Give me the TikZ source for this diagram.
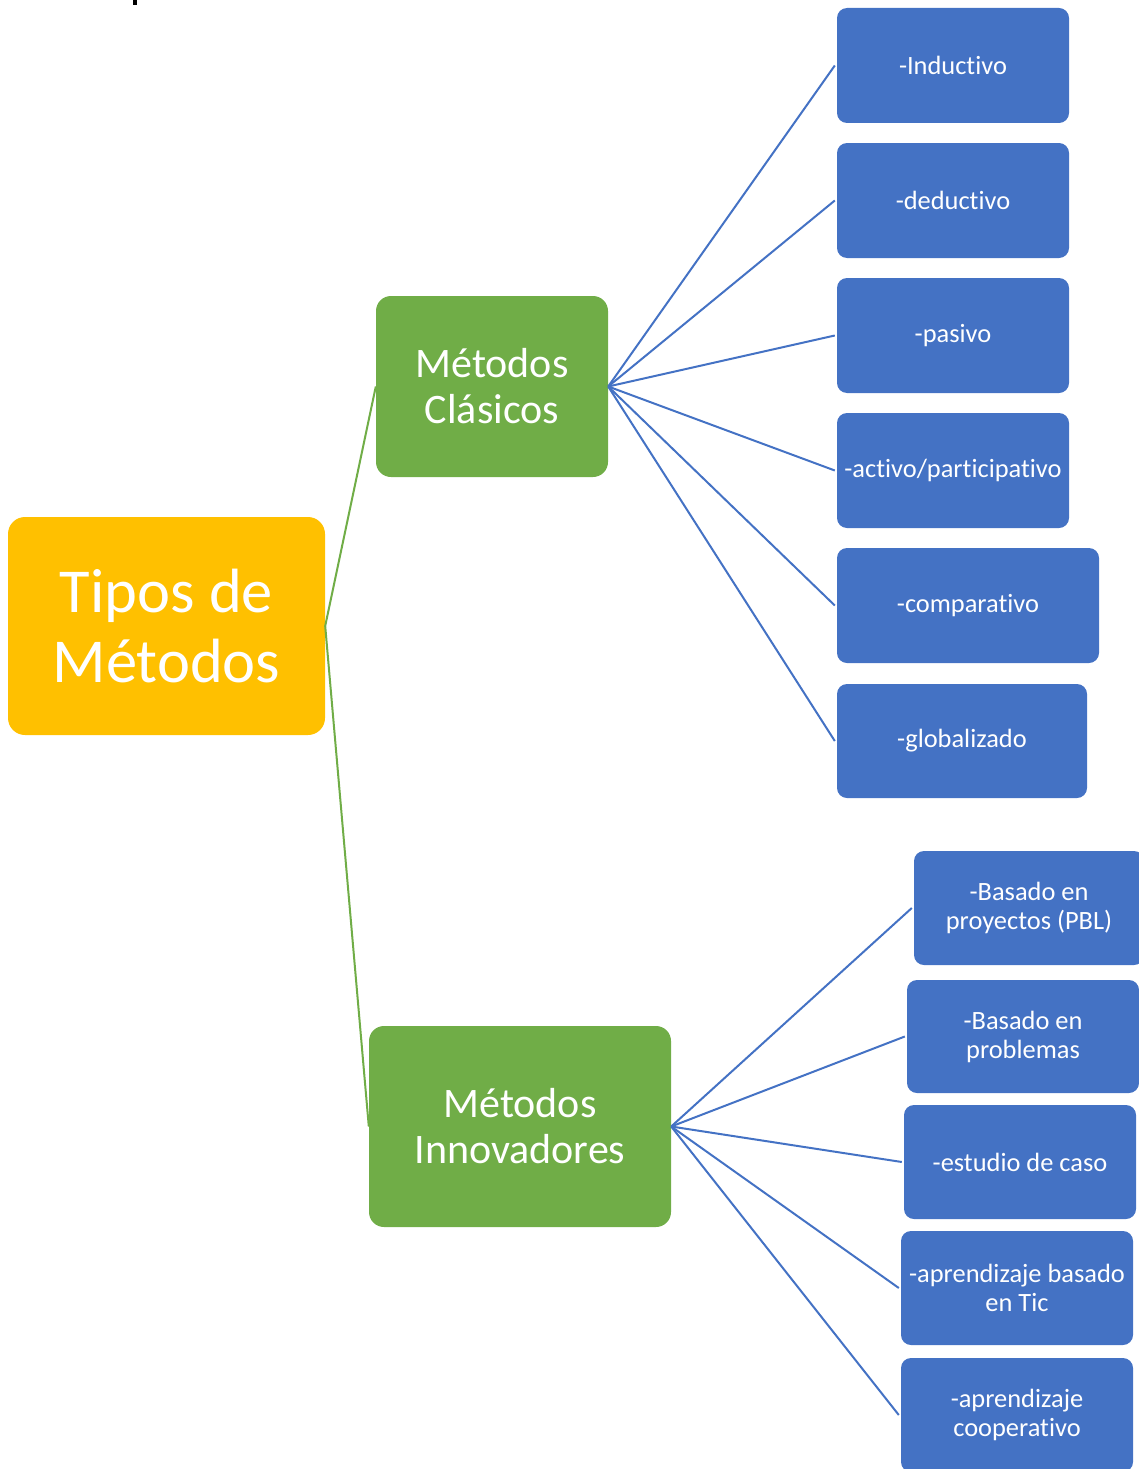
\documentclass[tikz,border=0pt]{standalone}
\usepackage{fontspec}
\setmainfont{Carlito}[Ligatures=NoCommon]
\definecolor{cblue}{HTML}{4472C4}
\definecolor{cgreen}{HTML}{70AD47}
\definecolor{cgold}{HTML}{FFC000}
\begin{document}
\begin{tikzpicture}[x=1pt,y=-1pt,
  leaf/.style={fill=cblue, rounded corners=10pt, inner sep=0pt, text=white, align=center,
    font=\fontsize{26.4}{29}\selectfont, minimum width=232pt, minimum height=115pt},
  mid/.style={fill=cgreen, rounded corners=15pt, inner sep=0pt, text=white, align=center,
    font=\fontsize{42}{46}\selectfont},
  root/.style={fill=cgold, rounded corners=17pt, inner sep=0pt, text=white, align=center,
    font=\fontsize{62.5}{70}\selectfont},
  bline/.style={draw=cblue, line width=2pt},
  gline/.style={draw=cgreen, line width=2pt}]
\useasboundingbox (0,0) rectangle (1139,1469);
\clip (0,0) rectangle (1139,1469);
\fill[black] (133,0) rectangle (137,5);

\node[root, minimum width=317pt, minimum height=218pt] (tipos) at (166.5,626) {Tipos de\\Métodos};
\node[mid, minimum width=232pt, minimum height=181pt] (clas) at (492,386.5) {Métodos\\Clásicos};
\node[mid, minimum width=302pt, minimum height=201pt] (innov) at (520,1126.5) {Métodos\\Innovadores};

\node[leaf] (b1) at (953,65.5) {-Inductivo};
\node[leaf] (b2) at (953,200.5) {-deductivo};
\node[leaf] (b3) at (953,335.5) {-pasivo};
\node[leaf] (b4) at (953,470.5) {-activo/participativo};
\node[leaf, minimum width=262pt] (b5) at (968,605.5) {-comparativo};
\node[leaf, minimum width=250pt, minimum height=114pt] (b6) at (962,741) {-globalizado};

\node[leaf, minimum width=230pt, minimum height=114pt] (c1) at (1029,908) {-Basado en\\proyectos (PBL)};
\node[leaf, minimum height=113pt] (c2) at (1023,1036.5) {-Basado en\\problemas};
\node[leaf, minimum height=114pt] (c3) at (1020,1162) {-estudio de caso};
\node[leaf, minimum height=114pt] (c4) at (1017,1288) {-aprendizaje basado\\en Tic};
\node[leaf, minimum height=114pt] (c5) at (1017,1415) {-aprendizaje\\cooperativo};

\draw[gline] (clas.west) -- (tipos.east) -- (innov.west);
\foreach \n in {b1,b2,b3,b4,b5,b6} \draw[bline] (clas.east) -- ([xshift=-2pt]\n.west);
\foreach \n in {c1,c2,c3,c4,c5} \draw[bline] (innov.east) -- ([xshift=-2pt]\n.west);
\end{tikzpicture}
\end{document}
